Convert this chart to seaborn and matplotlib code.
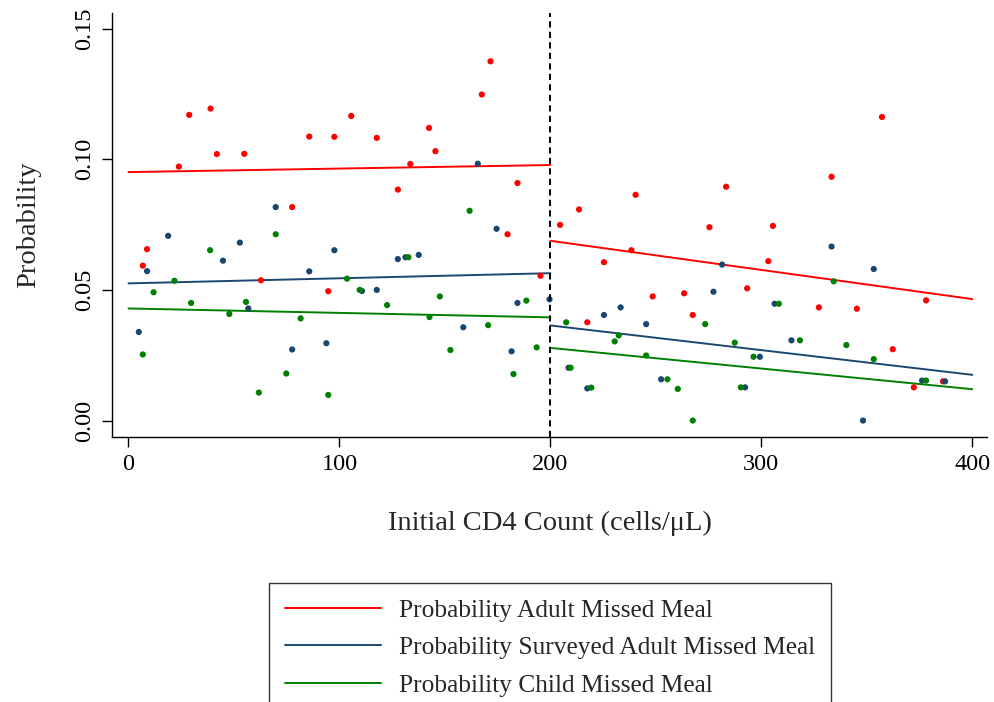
import pandas as pd
import seaborn as sns
import matplotlib.pyplot as plt
from matplotlib.ticker import FormatStrFormatter

# binned scatter values
red_x = [28.8, 38.9, 85.7, 41.9, 54.9, 23.9, 77.6, 171.6, 167.5, 105.6, 97.6, 117.7,
         142.5, 145.5, 133.6, 127.7, 184.4, 179.7, 8.8, 6.8, 62.8, 94.7, 195.3,
         204.6, 213.6, 240.4, 283.3, 275.4, 357.2, 333.3, 305.5, 238.4, 225.4, 303.3,
         248.5, 263.4, 293.3, 217.5, 267.5, 327.3, 345.3, 378.1, 362.3, 372.3, 386.1]
red_y = [0.1170, 0.1194, 0.1087, 0.1020, 0.1021, 0.0972, 0.0817, 0.1375, 0.1248, 0.1166,
         0.1086, 0.1082, 0.1120, 0.1031, 0.0982, 0.0884, 0.0909, 0.0713, 0.0656, 0.0593,
         0.0537, 0.0495, 0.0554,
         0.0749, 0.0808, 0.0864, 0.0895, 0.0740, 0.1162, 0.0933, 0.0745, 0.0652, 0.0606,
         0.0610, 0.0475, 0.0487, 0.0506, 0.0376, 0.0404, 0.0433, 0.0428, 0.0460, 0.0273,
         0.0127, 0.0150]

navy_x = [69.8, 18.8, 165.6, 174.5, 52.8, 8.8, 44.8, 85.7, 56.8, 4.9, 77.6, 93.8, 97.6,
          127.7, 131.3, 137.6, 110.7, 117.7, 199.6, 184.4, 158.7, 181.6,
          281.4, 277.3, 233.3, 225.4, 245.4, 299.3, 208.6, 252.5, 217.5, 292.3, 333.3,
          353.3, 306.3, 314.3, 376.2, 387.1, 348.2]
navy_y = [0.0817, 0.0707, 0.0983, 0.0734, 0.0681, 0.0572, 0.0612, 0.0571, 0.0429, 0.0339,
          0.0272, 0.0296, 0.0652, 0.0618, 0.0625, 0.0634, 0.0496, 0.0500, 0.0464, 0.0450,
          0.0357, 0.0265,
          0.0597, 0.0493, 0.0433, 0.0404, 0.0369, 0.0244, 0.0202, 0.0158, 0.0123, 0.0127,
          0.0666, 0.0580, 0.0447, 0.0307, 0.0153, 0.0150, 0.0000]

green_x = [69.8, 38.7, 21.8, 11.9, 29.7, 55.7, 47.8, 81.6, 6.8, 74.8, 61.8, 94.7, 161.7,
           132.7, 103.6, 109.6, 122.6, 147.6, 142.7, 188.6, 170.5, 193.5, 152.6, 182.5,
           207.5, 273.4, 232.4, 230.5, 287.4, 245.4, 296.3, 209.6, 255.5, 219.4, 260.4,
           290.3, 267.5, 334.3, 308.3, 318.3, 340.3, 353.3, 378.1]
green_y = [0.0713, 0.0652, 0.0535, 0.0491, 0.0450, 0.0454, 0.0408, 0.0391, 0.0253, 0.0180,
           0.0107, 0.0098, 0.0803, 0.0625, 0.0543, 0.0500, 0.0442, 0.0475, 0.0396, 0.0459,
           0.0365, 0.0280, 0.0270, 0.0178,
           0.0376, 0.0369, 0.0326, 0.0303, 0.0298, 0.0249, 0.0244, 0.0202, 0.0158, 0.0126,
           0.0121, 0.0127, 0.0000, 0.0533, 0.0447, 0.0307, 0.0289, 0.0235, 0.0153]

# linear fits either side of the 200 cutoff (endpoints)
fit_x = [0, 200, 200, 400]
red_fit = [0.0951, 0.0978, 0.0688, 0.0465]
navy_fit = [0.0525, 0.0564, 0.0364, 0.0175]
green_fit = [0.0429, 0.0395, 0.0278, 0.0120]

labels = ["Probability Adult Missed Meal",
          "Probability Surveyed Adult Missed Meal",
          "Probability Child Missed Meal"]
colors = ["#ff0000", "#1a476f", "#008000"]
palette = dict(zip(labels, colors))

pts = pd.concat([
    pd.DataFrame({"x": red_x, "y": red_y, "series": labels[0]}),
    pd.DataFrame({"x": navy_x, "y": navy_y, "series": labels[1]}),
    pd.DataFrame({"x": green_x, "y": green_y, "series": labels[2]}),
])

fits = []
for lab, ys in zip(labels, [red_fit, navy_fit, green_fit]):
    fits.append(pd.DataFrame({"x": fit_x, "y": ys, "series": lab,
                              "seg": ["lo", "lo", "hi", "hi"]}))
fits = pd.concat(fits)

sns.set_style("ticks")
plt.rcParams["font.family"] = ["Liberation Serif", "DejaVu Serif"]

fig = plt.figure(figsize=(9.94, 7.02), dpi=100)
ax = fig.add_axes([0.1127, 0.3775, 0.8803, 0.604])

sns.scatterplot(data=pts, x="x", y="y", hue="series", palette=palette, s=20,
                linewidth=0, legend=False, ax=ax, zorder=3)
sns.lineplot(data=fits, x="x", y="y", hue="series", units="seg", estimator=None,
             palette=palette, linewidth=1.4, ax=ax, zorder=2)
ax.axvline(200, color="black", linestyle=(0, (3.2, 2.2)), linewidth=1.4, zorder=4)

ax.set_xlim(-7.8, 407)
ax.set_ylim(-0.0063, 0.156)
ax.set_xticks([0, 100, 200, 300, 400])
ax.set_yticks([0, 0.05, 0.10, 0.15])
ax.yaxis.set_major_formatter(FormatStrFormatter("%.2f"))
ax.tick_params(labelsize=17.5, length=7, width=1, pad=5, colors="black")
for t in ax.get_yticklabels():
    t.set_rotation(90)
    t.set_va("center")

sns.despine(ax=ax)
for sp in ["left", "bottom"]:
    ax.spines[sp].set_color("black")
    ax.spines[sp].set_linewidth(1)

ax.set_xlabel("Initial CD4 Count (cells/μL)", fontsize=20.5, labelpad=26)
ax.set_ylabel("Probability", fontsize=20.5, labelpad=24)

handles, labs = ax.get_legend_handles_labels()
leg = ax.legend(handles, labs, loc="upper center", bbox_to_anchor=(0.5533, 0.1695),
                bbox_transform=fig.transFigure, fontsize=18.3, frameon=True,
                fancybox=False, edgecolor="black", handlelength=3.8,
                handletextpad=0.7, labelspacing=0.58, borderpad=0.62,
                borderaxespad=0)
leg.get_frame().set_linewidth(1)

plt.savefig("out.png", dpi=100)
